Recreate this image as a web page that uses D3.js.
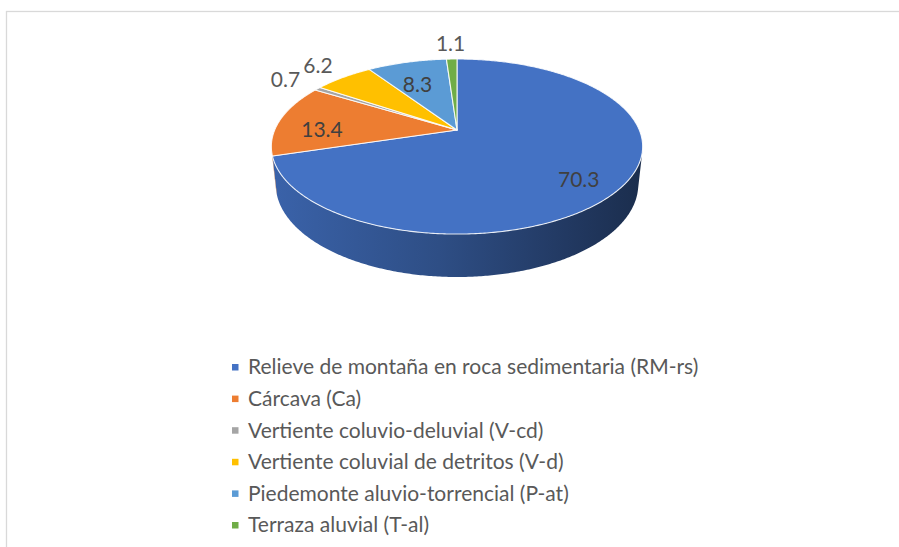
<!DOCTYPE html>
<html>
<head>
<meta charset="utf-8" />
<title>Pie 3D</title>
<style>
  body { margin: 0; background: #fff; }
  text { font-family: Lato, "Open Sans", sans-serif; }
</style>
</head>
<body>
<div id="chart"></div>
<script src="https://cdn.jsdelivr.net/npm/d3@7"></script>
<script>
// data
var categories = [
  "Relieve de montaña en roca sedimentaria (RM-rs)",
  "Cárcava (Ca)",
  "Vertiente coluvio-deluvial (V-cd)",
  "Vertiente coluvial de detritos (V-d)",
  "Piedemonte aluvio-torrencial (P-at)",
  "Terraza aluvial (T-al)"
];
var values = [70.3, 13.4, 0.7, 6.2, 8.3, 1.1];
var colors = ["#4472C4", "#ED7D31", "#A5A5A5", "#FFC000", "#5B9BD5", "#70AD47"];

var W = 899, H = 547;
var cx = 457, cy = 130;          // pie centre on screen
// perspective camera (units of pie radius)
var D = 4.69, sinA = 0.463, cosA = 0.886, focal = 855, thick = 0.237;

var svg = d3.select("#chart").append("svg")
    .attr("width", W).attr("height", H);

svg.append("rect").attr("width", W).attr("height", H).attr("fill", "#fff");
// chart area border
svg.append("rect")
    .attr("x", 6.5).attr("y", 11.5)
    .attr("width", 1000).attr("height", 1000)
    .attr("fill", "#fff").attr("stroke", "#d9d9d9").attr("stroke-width", 1.3);

function proj(t, r, yw) {
  var x = r * Math.sin(t), z = -r * Math.cos(t);
  var depth = D - (yw * sinA + z * cosA);
  return [cx + focal * x / depth, cy + focal * (z * sinA - yw * cosA) / depth];
}

function arcPts(a0, a1, r, yw) {
  var n = Math.max(2, Math.ceil(Math.abs(a1 - a0) / 0.01));
  var pts = [];
  for (var i = 0; i <= n; i++) pts.push(proj(a0 + (a1 - a0) * i / n, r, yw));
  return pts;
}

var arcs = d3.pie().sort(null).value(function (d) { return d; })(values);

var line = d3.line();
var defs = svg.append("defs");
var leftX = proj(-Math.PI / 2, 1, 0)[0], rightX = proj(Math.PI / 2, 1, 0)[0];

// visible part of the cylinder wall
var vis = Math.acos(-1 / (D * cosA));
var visStart = vis, visEnd = 2 * Math.PI - vis;

var sides = svg.append("g");
arcs.forEach(function (a, i) {
  var t0 = Math.max(a.startAngle, visStart), t1 = Math.min(a.endAngle, visEnd);
  if (t1 <= t0) return;
  var base = d3.color(colors[i]);
  var g = defs.append("linearGradient").attr("id", "side" + i)
      .attr("gradientUnits", "userSpaceOnUse")
      .attr("x1", leftX).attr("x2", rightX).attr("y1", 0).attr("y2", 0);
  [[0, 0.86], [0.45, 0.68], [0.8, 0.5], [1, 0.4]].forEach(function (s) {
    var c = d3.rgb(base.r * s[1], base.g * s[1], base.b * s[1]);
    g.append("stop").attr("offset", s[0]).attr("stop-color", c.formatHex());
  });
  var pts = arcPts(t0, t1, 1, 0).concat(arcPts(t1, t0, 1, -thick));
  sides.append("path")
      .attr("d", line(pts) + "Z")
      .attr("fill", "url(#side" + i + ")");
});

var tops = svg.append("g");
arcs.forEach(function (a, i) {
  var pts = [proj(0, 0, 0)].concat(arcPts(a.startAngle, a.endAngle, 1, 0));
  tops.append("path")
      .attr("d", line(pts) + "Z")
      .attr("fill", colors[i])
      .attr("stroke", "#fff").attr("stroke-opacity", 0.85)
      .attr("stroke-width", 1.1).attr("stroke-linejoin", "round");
});

// data labels
var labels = svg.append("g");
arcs.forEach(function (a, i) {
  var mid = (a.startAngle + a.endAngle) / 2;
  var inside = values[i] >= 8;
  var p = proj(mid, inside ? 0.76 : 1.26, 0);
  labels.append("text")
      .attr("x", p[0]).attr("y", p[1] + (inside ? 8 : 0))
      .attr("dy", "0.35em")
      .attr("text-anchor", "middle")
      .attr("font-size", 21)
      .attr("fill", inside ? "#404040" : "#595959")
      .text(d3.format(".1f")(values[i]));
});

// legend
var legend = svg.append("g").attr("transform", "translate(232,367)");
var rowH = 31.6;
categories.forEach(function (c, i) {
  var row = legend.append("g").attr("transform", "translate(0," + i * rowH + ")");
  row.append("rect").attr("x", 0).attr("y", -3).attr("width", 6.5).attr("height", 6.5)
      .attr("fill", colors[i]);
  row.append("text").attr("x", 16).attr("y", 0).attr("dy", "0.35em")
      .attr("font-size", 21).attr("fill", "#595959").text(c);
});
</script>
</body>
</html>
